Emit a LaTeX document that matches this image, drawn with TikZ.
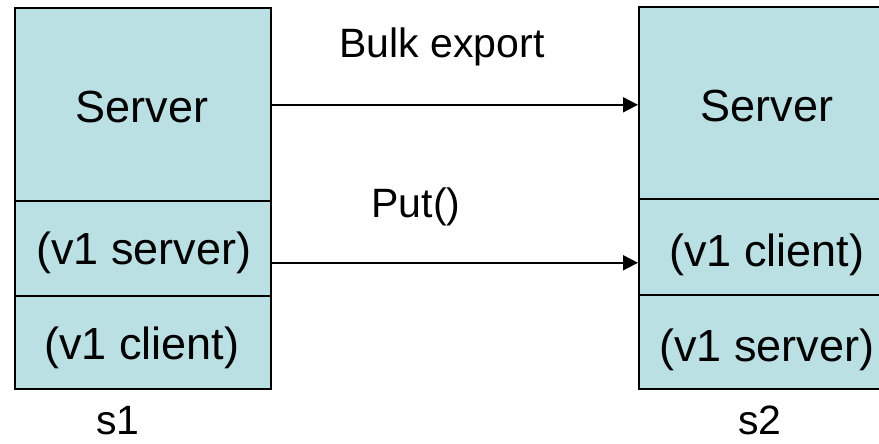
\documentclass[tikz,border=0pt]{standalone}
\usepackage{fontspec}
\setmainfont{Liberation Sans}
\usetikzlibrary{arrows.meta}
\definecolor{boxfill}{RGB}{187,224,227}
\tikzset{
  part/.style={draw=black, fill=boxfill, line width=1.6pt, inner sep=0pt, anchor=north west, minimum width=#1},
  boxtext/.style={anchor=base, inner sep=0pt, font=\fontsize{45}{54}\selectfont},
  lbltext/.style={anchor=base, inner sep=0pt, font=\fontsize{41}{49}\selectfont},
  conn/.style={line width=1.8pt, -{Triangle[length=15pt,width=15pt]}}
}
\begin{document}
\begin{tikzpicture}[x=1pt,y=1pt]
\useasboundingbox (0,0) rectangle (879,444);
\clip (0,0) rectangle (879,444);
% left stack
\node[part=256pt, minimum height=193pt] (lserver) at (14,437) {};
\node[part=256pt, minimum height=95pt] (lmid) at (14,244) {};
\node[part=256pt, minimum height=93pt] (lbot) at (14,149) {};
% right stack
\node[part=258pt, minimum height=192pt] (rserver) at (638,438) {};
\node[part=258pt, minimum height=96pt] (rmid) at (638,246) {};
\node[part=258pt, minimum height=94pt] (rbot) at (638,150) {};
% texts
\node[boxtext] (t1) at (142,321) {Server};
\node[boxtext] (t2) at (144,179) {(v1 server)};
\node[boxtext] (t3) at (142,84) {(v1 client)};
\node[boxtext] (t4) at (767,322) {Server};
\node[boxtext] (t5) at (767,177) {(v1 client)};
\node[boxtext] (t6) at (767,82) {(v1 server)};
\node[lbltext] (bulk) at (442,386) {Bulk export};
\node[lbltext] (put) at (416,226) {Put()};
\node[lbltext] (s1) at (118,9) {s1};
\node[lbltext] (s2) at (760,9) {s2};
% connectors
\draw[conn] ([yshift=-0.5pt]lserver.east) -- ([yshift=-0.5pt]lserver.east -| rserver.west);
\draw[conn] ([yshift=-14.5pt]lmid.east) -- ([yshift=-14.5pt]lmid.east -| rmid.west);
\end{tikzpicture}
\end{document}
